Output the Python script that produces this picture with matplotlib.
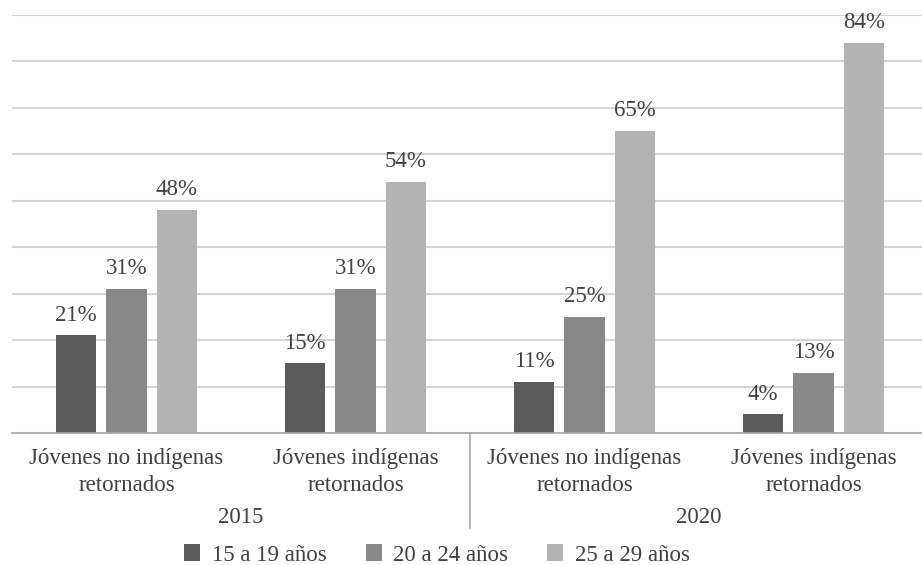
import matplotlib
matplotlib.use("Agg")
import matplotlib.pyplot as plt
import numpy as np

categories = ["Jóvenes no indígenas\nretornados", "Jóvenes indígenas\nretornados",
              "Jóvenes no indígenas\nretornados", "Jóvenes indígenas\nretornados"]
years = ["2015", "2020"]
series_names = ["15 a 19 años", "20 a 24 años", "25 a 29 años"]
v15_19 = [21, 15, 11, 4]
v20_24 = [31, 31, 25, 13]
v25_29 = [48, 54, 65, 84]
colors = ["#5b5b5b", "#888888", "#b3b3b3"]

plt.rcParams['font.family'] = ['Liberation Serif', 'DejaVu Serif']

fig = plt.figure(figsize=(9.22, 5.65), dpi=100)
ax = fig.add_axes([12/922, 1-433/565, 916/922, (433-15)/565])

x = np.arange(len(categories))
step = 0.22
width = 0.175
fs = 16.5
for i, (vals, c, name) in enumerate(zip([v15_19, v20_24, v25_29], colors, series_names)):
    pos = x + (i-1)*step
    ax.bar(pos, vals, width, color=c, label=name, zorder=3)
    for p, v in zip(pos, vals):
        ax.annotate(f"{v}%", (p, v), xytext=(0, 7), textcoords="offset points",
                    ha="center", va="bottom", fontsize=fs, color="#404040")

ax.set_xlim(-0.5, len(categories)-0.5)
ax.set_ylim(0, 90)
ax.set_yticks(np.arange(0, 91, 10))
ax.yaxis.grid(True, color="#d4d4d4", linewidth=1.5, zorder=0)
ax.set_yticklabels([])
ax.tick_params(left=False, bottom=False, labelbottom=False)
for s in ["top", "right", "left"]:
    ax.spines[s].set_visible(False)
ax.spines["bottom"].set_color("#a6a6a6")
ax.spines["bottom"].set_linewidth(1.2)
ax.spines["bottom"].set_zorder(4)

trans = ax.get_xaxis_transform()
for xi, cat in zip(x, categories):
    ax.text(xi, -15/418, cat, transform=trans, ha="center", va="top",
            fontsize=fs, color="#404040", linespacing=1.35)
for k, yr in enumerate(years):
    ax.text(2*k+0.5, -74/418, yr, transform=trans, ha="center", va="top",
            fontsize=fs, color="#404040")
ax.plot([1.5, 1.5], [0, -95/418], transform=trans, color="#a6a6a6",
        linewidth=1.2, clip_on=False)

leg = fig.legend(loc="center", bbox_to_anchor=(437/922, 1-555/565), ncol=3,
                 frameon=False, fontsize=fs, handlelength=0.7, handleheight=0.7,
                 columnspacing=1.7, handletextpad=0.5)
for t in leg.get_texts():
    t.set_color("#404040")

fig.savefig("out.png", dpi=100)
